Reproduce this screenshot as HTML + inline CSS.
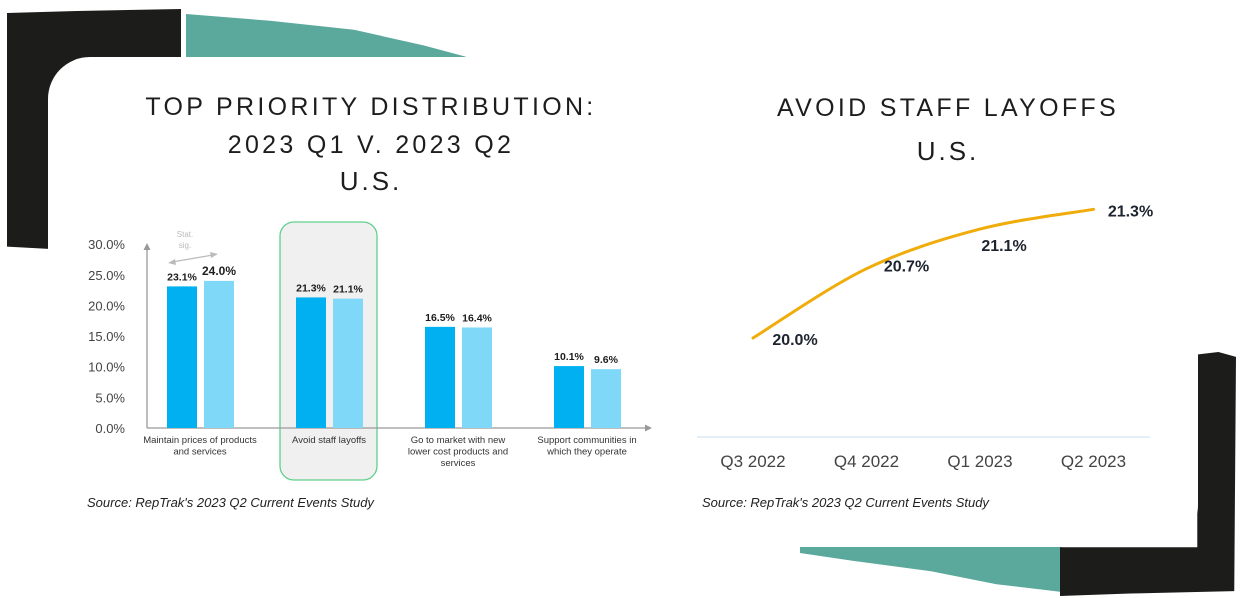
<!DOCTYPE html>
<html><head><meta charset="utf-8"><style>
html,body{margin:0;padding:0;width:1243px;height:598px;overflow:hidden;background:#fff;font-family:"Liberation Sans",sans-serif}
.abs{position:absolute}
</style></head><body>
<div style="position:relative;width:1243px;height:598px">
<div class="abs" style="left:7px;top:9px;width:174px;height:240px;background:#1c1d1b;clip-path:polygon(0 4px,40% 2px,100% 0,100% 100%,25% 100%,0 99%)"></div>
<div class="abs" style="left:186px;top:14px;width:280px;height:45px;background:#5ba89d;clip-path:polygon(0 0,30% 15%,60% 35%,85% 70%,100% 95%,100% 100%,0 100%)"></div>
<div class="abs" style="left:800px;top:540px;width:262px;height:52px;background:#5ba89d;clip-path:polygon(0 0,100% 0,100% 100%,75% 85%,50% 60%,20% 40%,0 25%)"></div>
<div class="abs" style="left:1060px;top:352px;width:176px;height:244px;background:#1c1d1b;clip-path:polygon(78% 1%,90% 0,100% 2%,99% 98%,40% 99%,0 100%,0 80%,78% 80%)"></div>
<div class="abs" style="left:48px;top:57px;width:1150px;height:490px;background:#fff;border-radius:42px 0 42px 0"></div>

<div class="abs" style="left:60px;top:88px;width:622px;text-align:center;font-size:25px;letter-spacing:3.3px;line-height:38px;color:#1d1d1d">TOP PRIORITY DISTRIBUTION:<br>2023 Q1 V. 2023 Q2</div>
<div class="abs" style="left:60px;top:166px;width:622px;text-align:center;font-size:26px;letter-spacing:3px;color:#1d1d1d">U.S.</div>
<div class="abs" style="left:700px;top:94px;width:496px;text-align:center;font-size:25px;letter-spacing:3.3px;color:#1d1d1d">AVOID STAFF LAYOFFS</div>
<div class="abs" style="left:700px;top:136px;width:496px;text-align:center;font-size:26px;letter-spacing:3px;color:#1d1d1d">U.S.</div>
<div class="abs" style="left:87px;top:495px;font-size:13px;font-style:italic;color:#222">Source: RepTrak's 2023 Q2 Current Events Study</div>
<div class="abs" style="left:702px;top:495px;font-size:13px;font-style:italic;color:#222">Source: RepTrak's 2023 Q2 Current Events Study</div>

<svg class="abs" style="left:0;top:0" width="1243" height="598" id="charts">
<rect x="280" y="222" width="97" height="258" rx="14" fill="#f0f0f0" stroke="#5fd08a" stroke-width="1.3"/>
<g id="bars"></g>
<g id="line"></g>
</svg>
</div>
<script>
const barCats=[["Maintain prices of products","and services"],["Avoid staff layoffs"],["Go to market with new","lower cost products and","services"],["Support communities in","which they operate"]];
const q1Values=[23.1,21.3,16.5,10.1];
const q2Values=[24.0,21.1,16.4,9.6];
const barTicks=["0.0%","5.0%","10.0%","15.0%","20.0%","25.0%","30.0%"];
const lineCats=["Q3 2022","Q4 2022","Q1 2023","Q2 2023"];
const lineValues=[20.0,20.7,21.1,21.3];

const NS="http://www.w3.org/2000/svg";
function mk(t,a,p,txt){const e=document.createElementNS(NS,t);for(const k in a)e.setAttribute(k,a[k]);if(txt!==undefined)e.textContent=txt;p.appendChild(e);return e;}
const bg=document.getElementById('bars');
const by=v=>428-v*6.13;
const gx=i=>167+i*129;
let ax=mk('line',{x1:147,y1:428,x2:647,y2:428,stroke:'#999','stroke-width':1.3},bg);


mk('polygon',{points:'652,428 645,424.5 645,431.5',fill:'#999'},bg);
let ay=mk('line',{x1:147,y1:428,x2:147,y2:248,stroke:'#999','stroke-width':1.3},bg);


mk('polygon',{points:'147,243 143.5,250 150.5,250',fill:'#999'},bg);
barTicks.forEach((t,i)=>{const e=mk('text',{x:125,y:by(i*5)+5,'text-anchor':'end','font-size':13,fill:'#444'},bg,t);

});
mk('text',{x:185,y:237,'text-anchor':'middle','font-size':8,fill:'#bbb'},bg,'Stat.');
mk('text',{x:185,y:248,'text-anchor':'middle','font-size':8,fill:'#bbb'},bg,'sig.');
mk('line',{x1:172,y1:262,x2:213,y2:255,stroke:'#bbb','stroke-width':1.2},bg);
mk('polygon',{points:'168,263 175,259 176,265',fill:'#bbb'},bg);
mk('polygon',{points:'218,254 210,252 211,258',fill:'#bbb'},bg);
barCats.forEach((c,i)=>{
 const x=gx(i);
 [[q1Values,'#00b0f0',0],[q2Values,'#80d8f8',37]].forEach(([arr,col,off],s)=>{
  const v=arr[i];
  const r=mk('rect',{x:x+off,y:by(v),width:30,height:428-by(v),fill:col},bg);
  
  
  const l=mk('text',{x:x+off+15,y:by(v)-6,'text-anchor':'middle','font-size':(i==0&&s==1)?12:10.5,'font-weight':'bold',fill:'#1d1d1d'},bg,v.toFixed(1)+'%');
  
  
 });
 c.forEach((ln,j)=>{const t=mk('text',{x:x+33,y:443+j*11.5,'text-anchor':'middle','font-size':9.5,fill:'#333'},bg,ln);
 
 });
});
const lg=document.getElementById('line');
const lx=i=>753+i*113.5;
const ly=v=>338-(v-20)*99;
let base=mk('line',{x1:697,y1:437,x2:1150,y2:437,stroke:'#e3eef6','stroke-width':2},lg);


let d='';
const pts=lineValues.map((v,i)=>[lx(i),ly(v)]);
pts.forEach((p,i)=>{
 if(i==0){d+='M'+p[0]+','+p[1];return;}
 const p0=pts[i-1],pm=pts[Math.max(i-2,0)],pn=pts[Math.min(i+1,pts.length-1)];
 const c1=[p0[0]+(p[0]-pm[0])/6,p0[1]+(p[1]-pm[1])/6],c2=[p[0]-(pn[0]-p0[0])/6,p[1]-(pn[1]-p0[1])/6];
 d+=` C${c1[0]},${c1[1]} ${c2[0]},${c2[1]} ${p[0]},${p[1]}`;
});
const path=mk('path',{d:d,fill:'none',stroke:'#f0ac0a','stroke-width':3,'stroke-linecap':'round'},lg);


const ldx=[42,40,24,37],ldy=[7,3,22,7];
lineValues.forEach((v,i)=>{
 const t=mk('text',{x:lx(i)+ldx[i],y:ly(v)+ldy[i],'text-anchor':'middle','font-size':16,'font-weight':'bold',fill:'#1d2430'},lg,v.toFixed(1)+'%');
 
 
});
lineCats.forEach((c,i)=>{
 const t=mk('text',{x:lx(i),y:467,'text-anchor':'middle','font-size':17,fill:'#444'},lg,c);
 
 
});
</script>
</body></html>
